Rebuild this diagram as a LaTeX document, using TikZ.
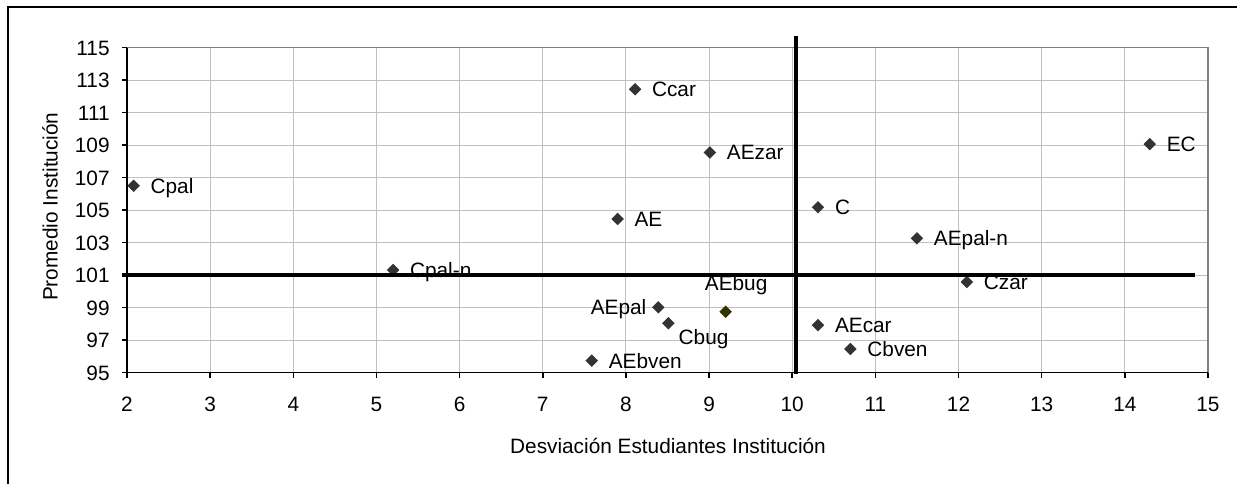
\documentclass[tikz,border=0pt]{standalone}
\usepackage{fontspec}
\setmainfont{Liberation Sans}
\usetikzlibrary{shapes.geometric,positioning}
\definecolor{gridgray}{HTML}{C0C0C0}
\definecolor{bordergray}{HTML}{808080}
\definecolor{markgray}{HTML}{333333}
\definecolor{markolive}{HTML}{333300}

\begin{document}
\begin{tikzpicture}[x=41.575pt,y=8.125pt,
  font=\fontsize{10.4}{12}\selectfont,
  pt/.style={diamond,fill=markgray,inner sep=0pt,minimum size=6.4pt},
  lbl/.style={inner sep=0pt,text height=7.4pt,text depth=0pt},
  node distance=4.9pt]
\useasboundingbox (0.4726,88.151) rectangle (15.349,117.935);
% marco
\draw[line width=1pt] (0.569,88) -- (0.569,117.5) -- (15.4,117.5);
% rejilla
\foreach \x in {3,...,14} \draw[gridgray,line width=0.55pt] (\x,95) -- (\x,115);
\foreach \y in {97,99,...,113} \draw[gridgray,line width=0.55pt] (2,\y) -- (15,\y);
\draw[bordergray,line width=0.8pt] (2,115) -- (15,115) -- (15,95);
% ejes
\draw[line width=0.8pt] (2,115) -- (2,95) -- (15,95);
\foreach \x in {2,...,15} {
  \draw[line width=0.8pt] (\x,95) -- ++(0,-2.5pt);
  \node[lbl] at (\x,93.07) {\x};
}
\foreach \y in {95,97,...,115} {
  \draw[line width=0.8pt] (2,\y) -- ++(-2.5pt,0);
  \node[lbl,anchor=east] at ([xshift=-8.5pt]2,\y) {\y};
}
\node (xtitle) at (8.506,90.49) {Desviación Estudiantes Institución};
\node[rotate=90] (ytitle) at (1.074,105.215) {Promedio Institución};

% puntos
\node[pt] (cpal) at (2.08,106.5) {};
\node[pt] (cpaln) at (5.2,101.32) {};
\node[pt] (ccar) at (8.11,112.44) {};
\node[pt] (aezar) at (9.01,108.55) {};
\node[pt] (ae) at (7.9,104.46) {};
\node[pt] (c) at (10.31,105.18) {};
\node[pt] (ec) at (14.3,109.06) {};
\node[pt] (aepaln) at (11.5,103.27) {};
\node[pt] (czar) at (12.1,100.58) {};
\node[pt,fill=markolive] (aebug) at (9.2,98.75) {};
\node[pt] (aepal) at (8.39,99.02) {};
\node[pt] (cbug) at (8.51,98.04) {};
\node[pt] (aecar) at (10.31,97.92) {};
\node[pt] (cbven) at (10.7,96.46) {};
\node[pt] (aebven) at (7.59,95.74) {};

% etiquetas
\node[lbl,right=of cpal] {Cpal};
\node[lbl,right=of cpaln] {Cpal-n};
\node[lbl,right=of ccar] {Ccar};
\node[lbl,right=of aezar] {AEzar};
\node[lbl,right=of ae] {AE};
\node[lbl,right=of c] {C};
\node[lbl,right=of ec] {EC};
\node[lbl,right=of aepaln] {AEpal-n};
\node[lbl,right=of czar] {Czar};
\node[lbl] at ([xshift=5.2pt,yshift=14.5pt]aebug.center) {AEbug};
\node[lbl,left=2.4pt of aepal] {AEpal};
\node[lbl,anchor=west] at ([xshift=5pt,yshift=-6.95pt]cbug.center) {Cbug};
\node[lbl,right=of aecar] {AEcar};
\node[lbl,right=of cbven] {Cbven};
\node[lbl,right=of aebven] {AEbven};

% cuadrantes
\draw[line width=2pt] (1.94,101) -- (14.84,101);
\draw[line width=2pt] (10.04,94.9) -- (10.04,115.72);
\end{tikzpicture}
\end{document}
